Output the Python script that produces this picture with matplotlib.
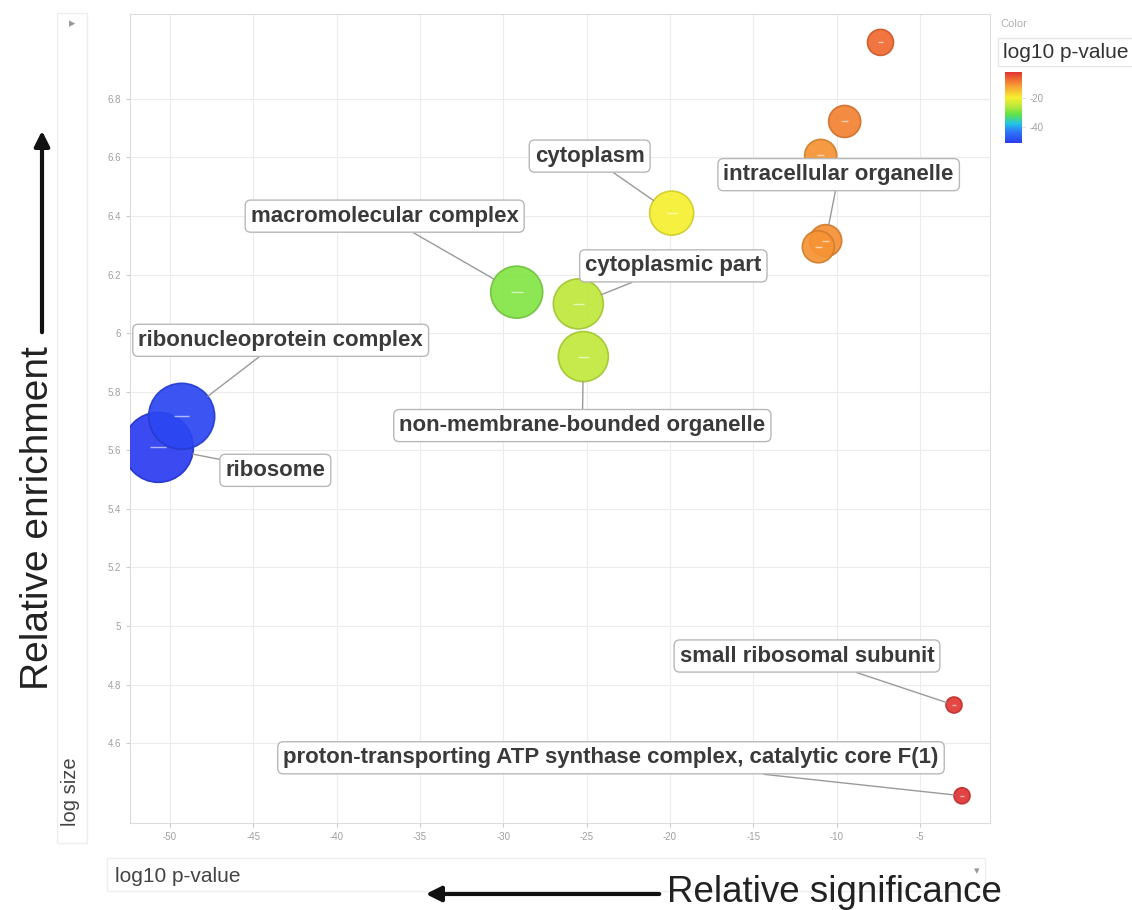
import matplotlib
matplotlib.use("Agg")
import matplotlib.pyplot as plt
import numpy as np
from matplotlib.colors import LinearSegmentedColormap, Normalize
from matplotlib.patches import Rectangle, FancyArrowPatch
from matplotlib.ticker import FuncFormatter
import matplotlib.cm as cm

plt.rcParams['font.family'] = ['Liberation Sans', 'DejaVu Sans']
plt.rcParams['axes.unicode_minus'] = False

# GO terms (empty name = unlabeled bubble)
terms = ["ribosome", "ribonucleoprotein complex", "macromolecular complex",
         "cytoplasmic part", "non-membrane-bounded organelle", "cytoplasm",
         "intracellular organelle", "", "", "", "",
         "small ribosomal subunit",
         "proton-transporting ATP synthase complex, catalytic core F(1)"]
log10_pvalue = [-50.7, -49.3, -29.2, -25.5, -25.2, -19.9,
                -10.66, -11.1, -10.96, -9.52, -7.37, -2.96, -2.48]
enrichment = [5.61, 5.716, 6.14, 6.10, 5.92, 6.41,
              6.316, 6.295, 6.607, 6.723, 6.993, 4.73, 4.42]
log_size = [3.5, 3.3, 2.6, 2.5, 2.5, 2.2, 1.6, 1.6, 1.6, 1.6, 1.3, 0.8, 0.8]

xticks = [-50, -45, -40, -35, -30, -25, -20, -15, -10, -5]
yticks = [4.6, 4.8, 5.0, 5.2, 5.4, 5.6, 5.8, 6.0, 6.2, 6.4, 6.6, 6.8]
cbar_ticks = [-20, -40]

# label box offsets from bubble centre (pixels, y up)
label_offsets = [(117, -23), (99, 76), (-132, 76), (95, 38), (-1, -69), (-82, 57),
                 (13, 66), None, None, None, None, (-147, 49), (-351, 38)]

W, H = 1132, 910
fig = plt.figure(figsize=(W / 100, H / 100), dpi=100)

def fx(px):
    return px / W

def fy(py):
    return 1 - py / H

ax = fig.add_axes([fx(130), fy(823), fx(990) - fx(130), fy(14) - fy(823)])

cmap = LinearSegmentedColormap.from_list("pv", [
    (0.00, "#2a3cf0"), (0.17, "#2f7cf5"), (0.27, "#22c4e8"), (0.40, "#5ee24a"),
    (0.52, "#bde83c"), (0.64, "#f6f030"), (0.80, "#f7a035"), (0.90, "#f06a30"),
    (1.00, "#e03434")])
norm = Normalize(vmin=min(log10_pvalue), vmax=max(log10_pvalue))

x = np.array(log10_pvalue)
y = np.array(enrichment)
r_px = 10 * np.array(log_size)          # bubble radius in pixels
r_pt = r_px * 0.72
cols = cmap(norm(x))
edge = cols.copy()
edge[:, :3] = edge[:, :3] * 0.85

ax.scatter(x, y, s=(2 * r_pt) ** 2, c=cols, edgecolors=edge, linewidths=1.2,
           alpha=0.92, zorder=3)
ax.scatter(x, y, s=(r_pt * 0.45) ** 2, marker="_", c="white", alpha=0.6,
           linewidths=1.0, zorder=4)

for i, name in enumerate(terms):
    if not name:
        continue
    dx, dy = label_offsets[i]
    ax.annotate(name, (x[i], y[i]), xytext=(dx * 0.72, dy * 0.72),
                textcoords="offset points", ha="center", va="center",
                fontsize=16, fontweight="bold", color="#3a3a3a",
                bbox=dict(boxstyle="round,pad=0.25,rounding_size=0.25",
                          fc="white", ec="#b8b8b8", lw=1.0),
                arrowprops=dict(arrowstyle="-", color="#9a9a9a", lw=1.0,
                                shrinkA=0, shrinkB=r_pt[i]),
                zorder=5)

ax.set_xlim(-52.4, -0.8)
ax.set_ylim(4.327, 7.09)
ax.set_xticks(xticks)
ax.set_yticks(yticks)
ax.yaxis.set_major_formatter(FuncFormatter(lambda v, p: "%g" % round(v, 1)))
ax.tick_params(colors="#cccccc", labelcolor="#a0a0a0", labelsize=7, length=3)
ax.grid(True, color="#ececec", lw=0.8)
ax.set_axisbelow(True)
for s in ax.spines.values():
    s.set_color("#dddddd")

# colour legend
fig.text(fx(1000), fy(24), "Color", fontsize=8, color="#b0b0b0", va="center")
fig.patches.append(Rectangle((fx(998), fy(66)), fx(150), fy(38) - fy(66),
                             transform=fig.transFigure, fc="white", ec="#e6e6e6"))
fig.text(fx(1003), fy(52), "log10 p-value", fontsize=15, color="#333333", va="center")
cax = fig.add_axes([fx(1005), fy(143), fx(17), fy(72) - fy(143)])
cb = fig.colorbar(cm.ScalarMappable(norm=norm, cmap=cmap), cax=cax, ticks=cbar_ticks)
cb.outline.set_visible(False)
cax.tick_params(labelsize=7, labelcolor="#a0a0a0", colors="#dddddd", length=2)

# side panels
fig.patches.append(Rectangle((fx(57), fy(843)), fx(30), fy(13) - fy(843),
                             transform=fig.transFigure, fc="white", ec="#eeeeee"))
fig.text(fx(72), fy(24), "\u25b8", fontsize=9, color="#999999", ha="center",
         va="center", family="DejaVu Sans")
fig.text(fx(71), fy(792), "log size", fontsize=14.5, color="#444444", rotation=90,
         ha="center", va="center")
fig.patches.append(Rectangle((fx(107), fy(891)), fx(878), fy(858) - fy(891),
                             transform=fig.transFigure, fc="white", ec="#eeeeee"))
fig.text(fx(115), fy(876), "log10 p-value", fontsize=15, color="#444444", va="center")
fig.text(fx(977), fy(871), "\u25be", fontsize=8, color="#999999", ha="center",
         va="center", family="DejaVu Sans")

# axis direction arrows
fig.add_artist(FancyArrowPatch(
    (fx(662), fy(894)), (fx(423), fy(894)), transform=fig.transFigure,
    arrowstyle="-|>,head_length=9,head_width=4.5", lw=3, color="#111111",
    zorder=10))
fig.text(fx(667), fy(892), "Relative significance", fontsize=26.5, color="#222222",
         va="center", ha="left", zorder=10)
fig.add_artist(FancyArrowPatch(
    (fx(42), fy(335)), (fx(42), fy(128)), transform=fig.transFigure,
    arrowstyle="-|>,head_length=9,head_width=4.5", lw=3, color="#111111",
    zorder=10))
fig.text(fx(38), fy(518), "Relative enrichment", fontsize=28, color="#222222",
         rotation=90, ha="center", va="center")

fig.savefig("out.png", dpi=100)
